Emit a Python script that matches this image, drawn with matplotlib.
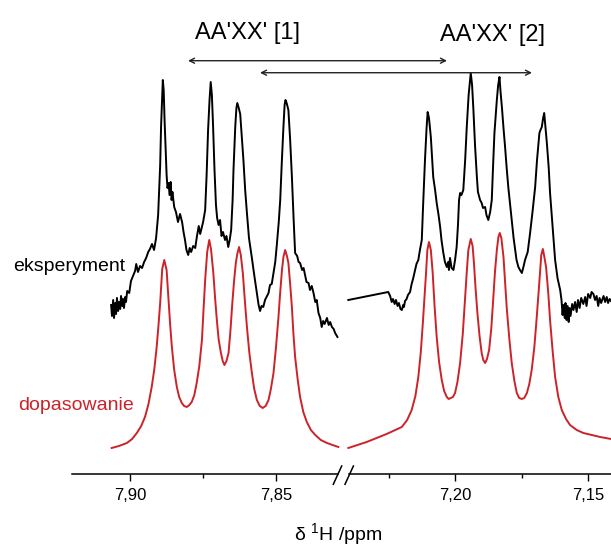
import matplotlib
matplotlib.use("Agg")
import matplotlib.pyplot as plt
from matplotlib.lines import Line2D
from matplotlib.patches import FancyArrowPatch

plt.rcParams['font.family'] = ['Liberation Sans', 'DejaVu Sans']
plt.rcParams['mathtext.fontset'] = 'custom'
plt.rcParams['mathtext.rm'] = 'Liberation Sans'
plt.rcParams['mathtext.default'] = 'regular'

# experimental spectrum, low-field part (7.92 - 7.83 ppm)
exp_ppm_1 = [7.9065, 7.9062, 7.9058, 7.9055, 7.9051, 7.9048, 7.9045, 7.9041, 7.9038, 7.9034,
             7.9031, 7.9027, 7.9024, 7.9021, 7.9017, 7.9014, 7.9010, 7.9003, 7.8997, 7.8990,
             7.8983, 7.8979, 7.8973, 7.8966, 7.8959, 7.8952, 7.8945, 7.8938, 7.8932, 7.8925,
             7.8918, 7.8911, 7.8904, 7.8901, 7.8897, 7.8894, 7.8890, 7.8888, 7.8885, 7.8882,
             7.8878, 7.8875, 7.8872, 7.8868, 7.8865, 7.8861, 7.8858, 7.8855, 7.8849, 7.8843,
             7.8836, 7.8829, 7.8822, 7.8817, 7.8812, 7.8807, 7.8801, 7.8796, 7.8791, 7.8784,
             7.8777, 7.8771, 7.8765, 7.8760, 7.8755, 7.8750, 7.8743, 7.8738, 7.8733, 7.8728,
             7.8724, 7.8720, 7.8716, 7.8711, 7.8706, 7.8702, 7.8697, 7.8692, 7.8687, 7.8682,
             7.8675, 7.8670, 7.8664, 7.8659, 7.8654, 7.8649, 7.8646, 7.8640, 7.8636, 7.8633,
             7.8628, 7.8623, 7.8618, 7.8612, 7.8606, 7.8600, 7.8593, 7.8583, 7.8575, 7.8566,
             7.8560, 7.8555, 7.8550, 7.8544, 7.8538, 7.8531, 7.8526, 7.8521, 7.8515, 7.8509,
             7.8503, 7.8498, 7.8491, 7.8486, 7.8481, 7.8475, 7.8471, 7.8468, 7.8464, 7.8458,
             7.8452, 7.8446, 7.8440, 7.8435, 7.8428, 7.8423, 7.8418, 7.8411, 7.8406, 7.8401,
             7.8396, 7.8389, 7.8384, 7.8378, 7.8372, 7.8366, 7.8361, 7.8355, 7.8349, 7.8344,
             7.8339, 7.8334, 7.8326, 7.8320, 7.8315, 7.8309, 7.8303, 7.8298, 7.8290]
exp_int_1 = [1.69, 1.58, 1.74, 1.56, 1.71, 1.60, 1.76, 1.63, 1.72, 1.65,
             1.78, 1.68, 1.75, 1.66, 1.77, 1.72, 1.83, 1.81, 1.93, 1.98,
             2.03, 2.10, 2.02, 2.08, 2.06, 2.12, 2.16, 2.22, 2.25, 2.30,
             2.24, 2.36, 2.59, 2.81, 3.09, 3.47, 3.79, 3.94, 3.84, 3.54,
             3.24, 2.99, 2.86, 2.91, 2.79, 2.92, 2.74, 2.82, 2.67, 2.62,
             2.52, 2.60, 2.52, 2.42, 2.34, 2.24, 2.19, 2.26, 2.22, 2.28,
             2.26, 2.38, 2.48, 2.40, 2.46, 2.52, 2.64, 2.99, 3.44, 3.74,
             3.92, 3.79, 3.49, 3.04, 2.69, 2.56, 2.49, 2.54, 2.38, 2.42,
             2.34, 2.38, 2.27, 2.34, 2.44, 2.74, 3.04, 3.47, 3.66, 3.71,
             3.66, 3.60, 3.39, 3.14, 2.84, 2.61, 2.36, 2.16, 1.99, 1.81,
             1.69, 1.63, 1.68, 1.67, 1.74, 1.78, 1.81, 1.89, 1.90, 2.01,
             2.12, 2.28, 2.52, 2.74, 3.09, 3.47, 3.69, 3.74, 3.71, 3.64,
             3.34, 2.97, 2.54, 2.21, 2.18, 2.12, 2.11, 2.04, 2.06, 1.99,
             1.92, 1.91, 1.84, 1.88, 1.81, 1.72, 1.74, 1.61, 1.56, 1.47,
             1.53, 1.50, 1.56, 1.49, 1.52, 1.47, 1.45, 1.41, 1.37]

# experimental spectrum, high-field part (7.24 - 7.14 ppm)
exp_ppm_2 = [7.2401, 7.2251, 7.2244, 7.2238, 7.2233, 7.2227, 7.2222, 7.2216, 7.2211, 7.2205,
             7.2200, 7.2195, 7.2192, 7.2188, 7.2182, 7.2177, 7.2169, 7.2164, 7.2157, 7.2150,
             7.2145, 7.2138, 7.2132, 7.2125, 7.2120, 7.2113, 7.2107, 7.2103, 7.2098, 7.2091,
             7.2086, 7.2082, 7.2075, 7.2069, 7.2062, 7.2056, 7.2051, 7.2044, 7.2038, 7.2031,
             7.2026, 7.2023, 7.2019, 7.2013, 7.2006, 7.2000, 7.1994, 7.1989, 7.1985, 7.1981,
             7.1976, 7.1969, 7.1962, 7.1956, 7.1949, 7.1941, 7.1936, 7.1931, 7.1925, 7.1918,
             7.1914, 7.1906, 7.1900, 7.1895, 7.1887, 7.1882, 7.1875, 7.1868, 7.1862, 7.1857,
             7.1852, 7.1843, 7.1838, 7.1833, 7.1829, 7.1824, 7.1818, 7.1812, 7.1806, 7.1800,
             7.1793, 7.1787, 7.1780, 7.1774, 7.1769, 7.1762, 7.1756, 7.1749, 7.1744, 7.1737,
             7.1727, 7.1718, 7.1709, 7.1699, 7.1692, 7.1683, 7.1679, 7.1674, 7.1669, 7.1665,
             7.1662, 7.1655, 7.1648, 7.1643, 7.1633, 7.1624, 7.1615, 7.1605, 7.1600, 7.1596,
             7.1593, 7.1588, 7.1585, 7.1581, 7.1577, 7.1573, 7.1570, 7.1566, 7.1560, 7.1555,
             7.1549, 7.1543, 7.1538, 7.1532, 7.1526, 7.1518, 7.1511, 7.1506, 7.1500, 7.1492,
             7.1487, 7.1480, 7.1474, 7.1468, 7.1462, 7.1457, 7.1451, 7.1442, 7.1436, 7.1430,
             7.1425, 7.1419, 7.1414]
exp_int_2 = [1.74, 1.82, 1.78, 1.72, 1.75, 1.70, 1.74, 1.68, 1.71, 1.65,
             1.64, 1.69, 1.67, 1.73, 1.75, 1.79, 1.82, 1.89, 1.96, 2.04,
             2.10, 2.14, 2.24, 2.34, 2.69, 3.14, 3.46, 3.62, 3.56, 3.37,
             3.14, 2.97, 2.84, 2.71, 2.59, 2.47, 2.34, 2.21, 2.12, 2.07,
             2.12, 2.04, 2.16, 2.06, 2.04, 2.14, 2.27, 2.49, 2.74, 2.81,
             2.79, 2.84, 3.14, 3.47, 3.79, 4.01, 3.89, 3.64, 3.29, 2.97,
             2.82, 2.74, 2.71, 2.66, 2.67, 2.59, 2.54, 2.62, 2.74, 3.09,
             3.41, 3.74, 3.89, 3.97, 3.82, 3.67, 3.46, 3.27, 3.06, 2.87,
             2.69, 2.54, 2.36, 2.24, 2.14, 2.07, 2.04, 2.01, 2.06, 2.14,
             2.22, 2.41, 2.62, 2.87, 3.14, 3.41, 3.44, 3.47, 3.56, 3.61,
             3.52, 3.31, 3.06, 2.81, 2.46, 2.14, 1.96, 1.84, 1.74, 1.59,
             1.69, 1.56, 1.71, 1.54, 1.68, 1.52, 1.66, 1.58, 1.70, 1.64,
             1.72, 1.62, 1.74, 1.66, 1.76, 1.70, 1.77, 1.68, 1.80, 1.76,
             1.82, 1.80, 1.74, 1.78, 1.68, 1.76, 1.71, 1.78, 1.72, 1.77,
             1.71, 1.75, 1.73]

# fitted spectrum
fit_ppm_1 = [7.9063, 7.9038, 7.9011, 7.8993, 7.8977, 7.8962, 7.8949, 7.8937, 7.8926, 7.8917,
             7.8909, 7.8903, 7.8897, 7.8890, 7.8883, 7.8875, 7.8869, 7.8863, 7.8857, 7.8849,
             7.8840, 7.8832, 7.8823, 7.8815, 7.8806, 7.8797, 7.8789, 7.8780, 7.8772, 7.8763,
             7.8754, 7.8749, 7.8743, 7.8736, 7.8729, 7.8723, 7.8715, 7.8709, 7.8703, 7.8697,
             7.8689, 7.8683, 7.8677, 7.8670, 7.8663, 7.8657, 7.8650, 7.8644, 7.8638, 7.8633,
             7.8627, 7.8621, 7.8614, 7.8607, 7.8600, 7.8592, 7.8583, 7.8575, 7.8566, 7.8556,
             7.8546, 7.8536, 7.8526, 7.8518, 7.8509, 7.8501, 7.8492, 7.8486, 7.8480, 7.8475,
             7.8469, 7.8463, 7.8458, 7.8452, 7.8446, 7.8441, 7.8435, 7.8426, 7.8418, 7.8407,
             7.8395, 7.8381, 7.8366, 7.8347, 7.8326, 7.8307, 7.8287]
fit_int_1 = [0.26, 0.28, 0.31, 0.35, 0.41, 0.48, 0.57, 0.70, 0.87, 1.05,
             1.27, 1.48, 1.71, 2.05, 2.14, 2.04, 1.77, 1.50, 1.27, 1.04,
             0.87, 0.77, 0.71, 0.68, 0.67, 0.69, 0.72, 0.79, 0.91, 1.08,
             1.34, 1.62, 1.94, 2.22, 2.34, 2.25, 2.01, 1.76, 1.54, 1.35,
             1.21, 1.13, 1.09, 1.13, 1.21, 1.41, 1.71, 1.93, 2.11, 2.20,
             2.27, 2.19, 2.01, 1.73, 1.47, 1.22, 1.01, 0.85, 0.74, 0.68,
             0.66, 0.68, 0.74, 0.85, 1.01, 1.25, 1.57, 1.82, 2.04, 2.17,
             2.24, 2.18, 2.11, 1.90, 1.67, 1.41, 1.17, 0.94, 0.77, 0.62,
             0.52, 0.44, 0.39, 0.34, 0.31, 0.29, 0.27]
fit_ppm_2 = [7.2401, 7.2332, 7.2257, 7.2200, 7.2180, 7.2163, 7.2149, 7.2138, 7.2129, 7.2121,
             7.2115, 7.2109, 7.2104, 7.2098, 7.2091, 7.2084, 7.2077, 7.2069, 7.2060, 7.2050,
             7.2041, 7.2031, 7.2024, 7.2016, 7.2008, 7.2000, 7.1991, 7.1981, 7.1971, 7.1962,
             7.1956, 7.1950, 7.1941, 7.1934, 7.1929, 7.1923, 7.1916, 7.1908, 7.1900, 7.1894,
             7.1887, 7.1880, 7.1872, 7.1864, 7.1856, 7.1850, 7.1843, 7.1837, 7.1832, 7.1826,
             7.1818, 7.1812, 7.1806, 7.1796, 7.1787, 7.1777, 7.1768, 7.1759, 7.1749, 7.1740,
             7.1730, 7.1721, 7.1712, 7.1702, 7.1693, 7.1686, 7.1680, 7.1676, 7.1670, 7.1665,
             7.1658, 7.1650, 7.1643, 7.1633, 7.1624, 7.1612, 7.1599, 7.1583, 7.1568, 7.1543,
             7.1518, 7.1455, 7.1414]
fit_int_2 = [0.26, 0.32, 0.40, 0.47, 0.54, 0.64, 0.78, 0.97, 1.21, 1.51,
             1.76, 2.01, 2.24, 2.32, 2.24, 2.01, 1.68, 1.37, 1.12, 0.94,
             0.83, 0.77, 0.75, 0.76, 0.77, 0.81, 0.92, 1.11, 1.40, 1.77,
             2.02, 2.24, 2.35, 2.28, 2.11, 1.86, 1.61, 1.38, 1.21, 1.14,
             1.11, 1.15, 1.24, 1.45, 1.77, 2.02, 2.24, 2.37, 2.41, 2.36,
             2.17, 1.92, 1.67, 1.35, 1.11, 0.93, 0.81, 0.76, 0.75, 0.76,
             0.81, 0.90, 1.04, 1.27, 1.57, 1.82, 2.04, 2.19, 2.25, 2.18,
             2.07, 1.82, 1.54, 1.22, 0.97, 0.77, 0.64, 0.55, 0.49, 0.44,
             0.41, 0.37, 0.35]

ticks_1 = [7.90, 7.85]
ticks_2 = [7.20, 7.15]
minor_1 = [7.875]
minor_2 = [7.225, 7.175]
xlim_1 = (7.9199, 7.8271)
xlim_2 = (7.2421, 7.1414)

red = '#cc2229'

fig = plt.figure(figsize=(6.11, 5.46), dpi=100)
ax1 = fig.add_axes([0.1178, 0.1319, 0.4436, 0.8681])
ax2 = fig.add_axes([0.5614, 0.1319, 0.4386, 0.8681])

for ax, ppm_e, int_e, ppm_f, int_f, lim, tk, mn in [
        (ax1, exp_ppm_1, exp_int_1, fit_ppm_1, fit_int_1, xlim_1, ticks_1, minor_1),
        (ax2, exp_ppm_2, exp_int_2, fit_ppm_2, fit_int_2, xlim_2, ticks_2, minor_2)]:
    ax.plot(ppm_e, int_e, color='black', lw=1.4, clip_on=False)
    ax.plot(ppm_f, int_f, color=red, lw=1.4, clip_on=False)
    ax.set_xlim(*lim)
    ax.set_ylim(0, 4.74)
    ax.set_xticks(tk)
    ax.set_xticklabels([('%.2f' % t).replace('.', ',') for t in tk])
    ax.set_xticks(mn, minor=True)
    ax.set_yticks([])
    for s in ['top', 'left', 'right']:
        ax.spines[s].set_visible(False)
    ax.spines['bottom'].set_linewidth(1.1)
    ax.tick_params(axis='x', which='major', length=5, width=1.0, labelsize=12, pad=5)
    ax.tick_params(axis='x', which='minor', length=3, width=1.0)
    ax.patch.set_visible(False)

# gap in the axis line around the break
ax1.spines['bottom'].set_bounds(xlim_1[0], 7.8288)
ax2.spines['bottom'].set_bounds(7.2398, xlim_2[1])

# break marks "//"
for x0 in [333.3, 345.0]:
    fig.add_artist(Line2D([x0 / 611, (x0 + 8.4) / 611],
                          [1 - 484.3 / 546, 1 - 466 / 546],
                          color='black', lw=1.1))

fig.text(0.4043, 0.9396, "AA'XX' [1]", fontsize=17, ha='center', va='center')
fig.text(0.8061, 0.9359, "AA'XX' [2]", fontsize=17, ha='center', va='center')

arrow = dict(arrowstyle='<->', color='#222222', lw=1.0, mutation_scale=9,
             shrinkA=0, shrinkB=0)
fig.add_artist(FancyArrowPatch((0.3077, 0.8888), (0.7316, 0.8888),
                               transform=fig.transFigure, **arrow))
fig.add_artist(FancyArrowPatch((0.4255, 0.8668), (0.8707, 0.8668),
                               transform=fig.transFigure, **arrow))

fig.text(0.1129, 0.5128, 'eksperyment', fontsize=14, ha='center', va='center')
fig.text(0.1252, 0.2582, 'dopasowanie', fontsize=14, ha='center', va='center', color=red)
fig.text(0.5532, 0.0220, 'δ $^{1}$H /ppm', fontsize=14, ha='center', va='center')

fig.savefig('out.png', dpi=100)
